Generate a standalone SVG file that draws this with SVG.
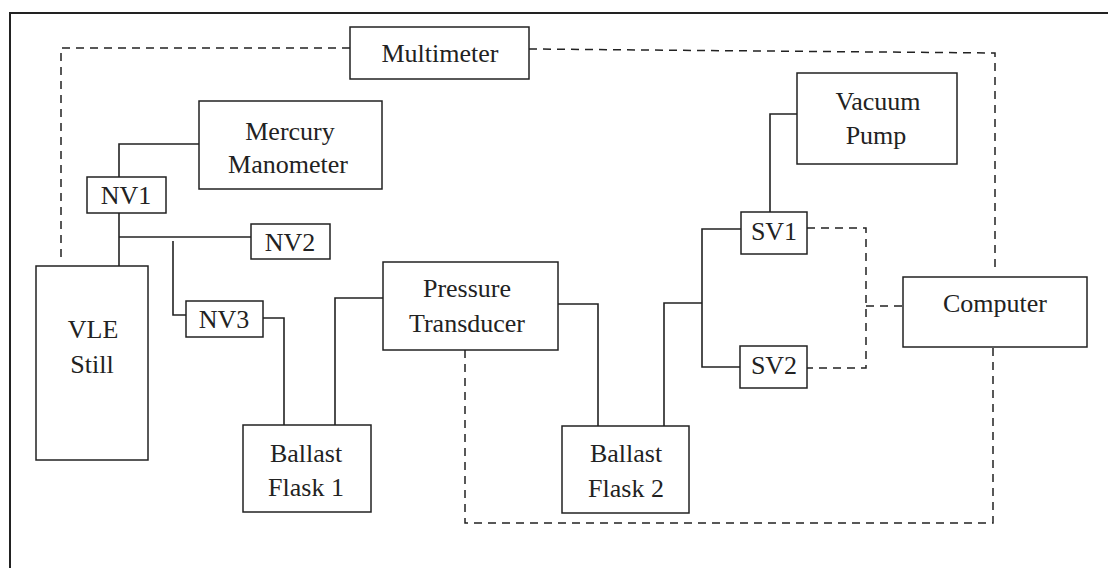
<svg xmlns="http://www.w3.org/2000/svg" width="1108" height="568" viewBox="0 0 1108 568">
<style>
.box{fill:#fff;stroke:#222;stroke-width:1.5}
.t{font-family:"Liberation Serif","Times New Roman",serif;font-size:26px;fill:#222;text-anchor:middle}
.pipe{fill:none;stroke:#222;stroke-width:1.6}
.sig{fill:none;stroke:#222;stroke-width:1.5;stroke-dasharray:8 6}
.frame{fill:none;stroke:#222;stroke-width:2}
</style>
<rect width="1108" height="568" fill="#fff"/>
<path class="frame" d="M10,568 V13 H1108"/>
<g id="connectors">
<path class="sig" d="M350,48 H61 V258"/>
<path class="sig" d="M529,49 L995,53 V270"/>
<path class="sig" d="M465,350 V523 H993 V347"/>
<path class="sig" d="M807,228 H866 V368 H807"/>
<path class="sig" d="M866,306 H903"/>
<path class="pipe" d="M199,144 H119 V177"/>
<path class="pipe" d="M119,213 V266"/>
<path class="pipe" d="M119,237 H251"/>
<path class="pipe" d="M173,241 V315 H186"/>
<path class="pipe" d="M263,318 H284 V425"/>
<path class="pipe" d="M335,425 V298 H383"/>
<path class="pipe" d="M558,304 H598 V426"/>
<path class="pipe" d="M664,426 V303 H702"/>
<path class="pipe" d="M741,229 H702 V367 H740"/>
<path class="pipe" d="M797,114 H770 V212"/>
</g>
<g id="multimeter"><rect class="box" x="350" y="27" width="179" height="52"/><text class="t" x="440" y="62">Multimeter</text></g>
<g id="mercury-manometer"><rect class="box" x="199" y="101" width="183" height="88"/><text class="t" x="290" y="140">Mercury</text><text class="t" x="288" y="173">Manometer</text></g>
<g id="nv1"><rect class="box" x="87" y="177" width="79" height="36"/><text class="t" x="126" y="204">NV1</text></g>
<g id="nv2"><rect class="box" x="251" y="224" width="79" height="35"/><text class="t" x="290" y="251">NV2</text></g>
<g id="nv3"><rect class="box" x="186" y="301" width="77" height="36"/><text class="t" x="224" y="328">NV3</text></g>
<g id="vle-still"><rect class="box" x="36" y="266" width="112" height="194"/><text class="t" x="93" y="338">VLE</text><text class="t" x="92" y="373">Still</text></g>
<g id="ballast-flask-1"><rect class="box" x="243" y="425" width="128" height="87"/><text class="t" x="306" y="462">Ballast</text><text class="t" x="306" y="496">Flask 1</text></g>
<g id="pressure-transducer"><rect class="box" x="383" y="262" width="175" height="88"/><text class="t" x="467" y="297">Pressure</text><text class="t" x="467" y="332">Transducer</text></g>
<g id="ballast-flask-2"><rect class="box" x="562" y="426" width="127" height="87"/><text class="t" x="626" y="462">Ballast</text><text class="t" x="626" y="497">Flask 2</text></g>
<g id="vacuum-pump"><rect class="box" x="797" y="73" width="160" height="91"/><text class="t" x="878" y="110">Vacuum</text><text class="t" x="876" y="144">Pump</text></g>
<g id="sv1"><rect class="box" x="741" y="212" width="66" height="42"/><text class="t" x="774" y="240">SV1</text></g>
<g id="sv2"><rect class="box" x="740" y="346" width="67" height="42"/><text class="t" x="774" y="374">SV2</text></g>
<g id="computer"><rect class="box" x="903" y="277" width="184" height="70"/><text class="t" x="995" y="312">Computer</text></g>
</svg>
